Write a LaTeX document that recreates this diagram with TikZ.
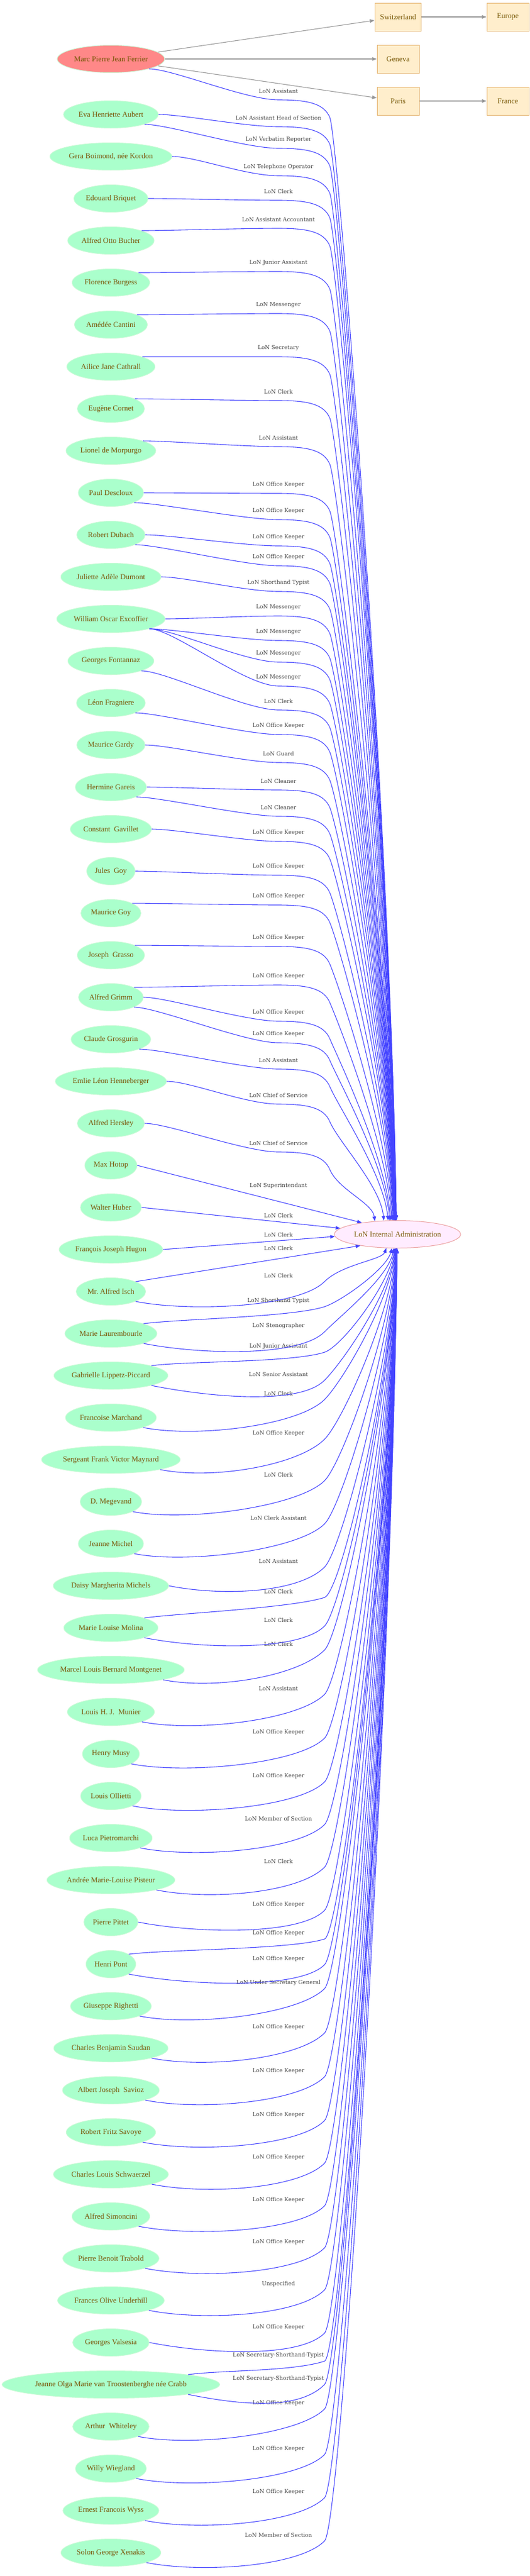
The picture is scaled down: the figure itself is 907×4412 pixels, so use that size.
\documentclass[tikz,border=0pt]{standalone}
\usepackage{fontspec}
\setmainfont{Liberation Serif}
\newfontfamily\rolefont{DejaVu Serif}
\usetikzlibrary{arrows.meta,shapes.geometric}
\definecolor{mint}{RGB}{170,255,204}
\definecolor{mintrim}{RGB}{205,250,215}
\definecolor{salmon}{RGB}{255,136,136}
\definecolor{lavender}{RGB}{255,236,255}
\definecolor{rosy}{RGB}{235,160,160}
\definecolor{cream}{RGB}{255,238,204}
\definecolor{tanline}{RGB}{228,178,110}
\definecolor{ochre}{RGB}{122,88,8}
\definecolor{slate}{RGB}{68,68,68}
\definecolor{lonblue}{RGB}{68,68,255}
\definecolor{geogray}{RGB}{153,153,153}
\frenchspacing

\begin{document}
\begin{tikzpicture}[
		x=1bp, y=-1bp,
		person/.style={ellipse, fill=mint, draw=mintrim, line width=1bp, minimum height=47bp,
			inner xsep=2bp, text=ochre, font=\fontsize{13}{15}\selectfont},
		seed/.style={person, fill=salmon},
		hub/.style={person, fill=lavender, draw=rosy},
		place/.style={rectangle, fill=cream, draw=tanline, line width=1bp, minimum width=72bp,
			minimum height=48bp, inner xsep=9bp, text=ochre, font=\fontsize{13}{15}\selectfont},
		role/.style={text=slate, inner sep=0pt, font=\rolefont\fontsize{9.5}{11}\selectfont},
		geo/.style={draw=geogray, line width=1.1bp, -{Triangle[length=8bp,width=6bp]}},
		link/.style={draw=lonblue, line width=1.1bp, -{Triangle[length=8bp,width=6bp]}},
		up/.style={to path={.. controls +(40,0) and (420,#1+15) .. (477,#1+15)
			.. controls (530,#1+15) and (555,#1+22) .. (565,#1+45)
			.. controls (580,#1+80) and ({672-4000/(2077-#1)},{2091-0.35*(2046-#1)}) .. (\tikztotarget)}},
		low/.style={to path={.. controls +(90,18) and (511,#1+55) .. (556,#1+10)
			.. controls (586,#1-20) and ({672-1000/(#1-2128)},{2138+0.35*(#1-2128)}) .. (\tikztotarget)}},
		rise/.style={to path={.. controls +(60,-8) and (500,#1+28) .. (556,#1+10)
			.. controls (586,#1) and ({672-1000/(#1-2128)},{2138+0.35*(#1-2128)}) .. (\tikztotarget)}}
	]
  \useasboundingbox (0,0) rectangle (907,4412);
  \node[seed] (marc) at (190,101) {Marc Pierre Jean Ferrier};
  \node[person] (eva) at (190,196) {Eva Henriette Aubert};
  \node[person] (gera) at (190,268) {Gera Boimond, née Kordon};
  \node[person] (briquet) at (190,340) {Edouard Briquet};
  \node[person] (bucher) at (190,412) {Alfred Otto Bucher};
  \node[person] (burgess) at (190,484) {Florence Burgess};
  \node[person] (cantini) at (190,556) {Amédée Cantini};
  \node[person] (cathrall) at (190,628) {Ailice Jane Cathrall};
  \node[person] (cornet) at (190,700) {Eugène Cornet};
  \node[person] (morpurgo) at (190,772) {Lionel de Morpurgo};
  \node[person] (descloux) at (190,844) {Paul Descloux};
  \node[person] (dubach) at (190,916) {Robert Dubach};
  \node[person] (dumont) at (190,988) {Juliette Adèle Dumont};
  \node[person] (excoffier) at (190,1060) {William Oscar Excoffier};
  \node[person] (fontannaz) at (190,1132) {Georges Fontannaz};
  \node[person] (fragniere) at (190,1204) {Léon Fragniere};
  \node[person] (gardy) at (190,1276) {Maurice Gardy};
  \node[person] (gareis) at (190,1348) {Hermine Gareis};
  \node[person] (gavillet) at (190,1420) {Constant\ \ Gavillet};
  \node[person] (goyj) at (190,1492) {Jules\ \ Goy};
  \node[person] (goym) at (190,1564) {Maurice Goy};
  \node[person] (grasso) at (190,1636) {Joseph\ \ Grasso};
  \node[person] (grimm) at (190,1708) {Alfred Grimm};
  \node[person] (grosgurin) at (190,1780) {Claude Grosgurin};
  \node[person] (henneberger) at (190,1852) {Emlie Léon Henneberger};
  \node[person] (hersley) at (190,1924) {Alfred Hersley};
  \node[person] (hotop) at (190,1996) {Max Hotop};
  \node[person] (huber) at (190,2068) {Walter Huber};
  \node[person] (hugon) at (190,2140) {François Joseph Hugon};
  \node[person] (isch) at (190,2212) {Mr. Alfred Isch};
  \node[person] (laurembourle) at (190,2284) {Marie Laurembourle};
  \node[person] (lippetz) at (190,2356) {Gabrielle Lippetz-Piccard};
  \node[person] (marchand) at (190,2428) {Francoise Marchand};
  \node[person] (maynard) at (190,2500) {Sergeant Frank Victor Maynard};
  \node[person] (megevand) at (190,2572) {D. Megevand};
  \node[person] (michel) at (190,2644) {Jeanne Michel};
  \node[person] (michels) at (190,2716) {Daisy Margherita Michels};
  \node[person] (molina) at (190,2788) {Marie Louise Molina};
  \node[person] (montgenet) at (190,2860) {Marcel Louis Bernard Montgenet};
  \node[person] (munier) at (190,2932) {Louis H. J.\ \ Munier};
  \node[person] (musy) at (190,3004) {Henry Musy};
  \node[person] (ollietti) at (190,3076) {Louis Ollietti};
  \node[person] (pietromarchi) at (190,3148) {Luca Pietromarchi};
  \node[person] (pisteur) at (190,3220) {Andrée Marie-Louise Pisteur};
  \node[person] (pittet) at (190,3292) {Pierre Pittet};
  \node[person] (pont) at (190,3364) {Henri Pont};
  \node[person] (righetti) at (190,3436) {Giuseppe Righetti};
  \node[person] (saudan) at (190,3508) {Charles Benjamin Saudan};
  \node[person] (savioz) at (190,3580) {Albert Joseph\ \ Savioz};
  \node[person] (savoye) at (190,3652) {Robert Fritz Savoye};
  \node[person] (schwaerzel) at (190,3724) {Charles Louis Schwaerzel};
  \node[person] (simoncini) at (190,3796) {Alfred Simoncini};
  \node[person] (trabold) at (190,3868) {Pierre Benoit Trabold};
  \node[person] (underhill) at (190,3940) {Frances Olive Underhill};
  \node[person] (valsesia) at (190,4012) {Georges Valsesia};
  \node[person] (troostenberghe) at (190,4084) {Jeanne Olga Marie van Troostenberghe née Crabb};
  \node[person] (whiteley) at (190,4156) {Arthur\ \ Whiteley};
  \node[person] (wiegland) at (190,4228) {Willy Wiegland};
  \node[person] (wyss) at (190,4300) {Ernest Francois Wyss};
  \node[person] (xenakis) at (190,4372) {Solon George Xenakis};
  \node[place] (switzerland) at (682,29) {Switzerland};
  \node[place] (europe) at (870,29) {Europe};
  \node[place] (geneva) at (682,101) {Geneva};
  \node[place] (paris) at (682,173) {Paris};
  \node[place] (france) at (870,173) {France};
  \node[hub] (lon) at (681,2114) {LoN Internal Administration};
  \node[role] (j1) at (477,156) {LoN Assistant};
  \node[role] (j2) at (477,202) {LoN Assistant Head of Section};
  \node[role] (j3) at (477,239) {LoN Verbatim Reporter};
  \node[role] (j4) at (477,286) {LoN Telephone Operator};
  \node[role] (j5) at (477,328) {LoN Clerk};
  \node[role] (j6) at (477,376) {LoN Assistant Accountant};
  \node[role] (j7) at (477,450) {LoN Junior Assistant};
  \node[role] (j8) at (477,522) {LoN Messenger};
  \node[role] (j9) at (477,596) {LoN Secretary};
  \node[role] (j10) at (477,671) {LoN Clerk};
  \node[role] (j11) at (477,750) {LoN Assistant};
  \node[role] (j12) at (477,830) {LoN Office Keeper};
  \node[role] (j13) at (477,875) {LoN Office Keeper};
  \node[role] (j14) at (477,920) {LoN Office Keeper};
  \node[role] (j15) at (477,954) {LoN Office Keeper};
  \node[role] (j16) at (477,998) {LoN Shorthand Typist};
  \node[role] (j17) at (477,1040) {LoN Messenger};
  \node[role] (j18) at (477,1082) {LoN Messenger};
  \node[role] (j19) at (477,1119) {LoN Messenger};
  \node[role] (j20) at (477,1160) {LoN Messenger};
  \node[role] (j21) at (477,1201) {LoN Clerk};
  \node[role] (j22) at (477,1243) {LoN Office Keeper};
  \node[role] (j23) at (477,1291) {LoN Guard};
  \node[role] (j24) at (477,1338) {LoN Cleaner};
  \node[role] (j25) at (477,1383) {LoN Cleaner};
  \node[role] (j26) at (477,1426) {LoN Office Keeper};
  \node[role] (j27) at (477,1484) {LoN Office Keeper};
  \node[role] (j28) at (477,1535) {LoN Office Keeper};
  \node[role] (j29) at (477,1606) {LoN Office Keeper};
  \node[role] (j30) at (477,1672) {LoN Office Keeper};
  \node[role] (j31) at (477,1734) {LoN Office Keeper};
  \node[role] (j32) at (477,1771) {LoN Office Keeper};
  \node[role] (j33) at (477,1816) {LoN Assistant};
  \node[role] (j34) at (477,1876) {LoN Chief of Service};
  \node[role] (j35) at (477,1958) {LoN Chief of Service};
  \node[role] (j36) at (477,2031) {LoN Superintendant};
  \node[role] (j37) at (477,2082) {LoN Clerk};
  \node[role] (j38) at (477,2115) {LoN Clerk};
  \node[role] (j39) at (477,2138) {LoN Clerk};
  \node[role] (j40) at (477,2185) {LoN Clerk};
  \node[role] (j41) at (477,2228) {LoN Shorthand Typist};
  \node[role] (j42) at (477,2271) {LoN Stenographer};
  \node[role] (j43) at (477,2306) {LoN Junior Assistant};
  \node[role] (j44) at (477,2354) {LoN Senior Assistant};
  \node[role] (j45) at (477,2387) {LoN Clerk};
  \node[role] (j46) at (477,2455) {LoN Office Keeper};
  \node[role] (j47) at (477,2526) {LoN Clerk};
  \node[role] (j48) at (477,2600) {LoN Clerk Assistant};
  \node[role] (j49) at (477,2674) {LoN Assistant};
  \node[role] (j50) at (477,2726) {LoN Clerk};
  \node[role] (j51) at (477,2775) {LoN Clerk};
  \node[role] (j52) at (477,2816) {LoN Clerk};
  \node[role] (j53) at (477,2892) {LoN Assistant};
  \node[role] (j54) at (477,2967) {LoN Office Keeper};
  \node[role] (j55) at (477,3042) {LoN Office Keeper};
  \node[role] (j56) at (477,3115) {LoN Member of Section};
  \node[role] (j57) at (477,3188) {LoN Clerk};
  \node[role] (j58) at (477,3262) {LoN Office Keeper};
  \node[role] (j59) at (477,3311) {LoN Office Keeper};
  \node[role] (j60) at (477,3355) {LoN Office Keeper};
  \node[role] (j61) at (477,3396) {LoN Under Secretary General};
  \node[role] (j62) at (477,3472) {LoN Office Keeper};
  \node[role] (j63) at (477,3547) {LoN Office Keeper};
  \node[role] (j64) at (477,3622) {LoN Office Keeper};
  \node[role] (j65) at (477,3695) {LoN Office Keeper};
  \node[role] (j66) at (477,3768) {LoN Office Keeper};
  \node[role] (j67) at (477,3840) {LoN Office Keeper};
  \node[role] (j68) at (477,3912) {Unspecified};
  \node[role] (j69) at (477,3986) {LoN Office Keeper};
  \node[role] (j70) at (477,4034) {LoN Secretary-Shorthand-Typist};
  \node[role] (j71) at (477,4074) {LoN Secretary-Shorthand-Typist};
  \node[role] (j72) at (477,4116) {LoN Office Keeper};
  \node[role] (j73) at (477,4194) {LoN Office Keeper};
  \node[role] (j74) at (477,4268) {LoN Office Keeper};
  \node[role] (j75) at (477,4342) {LoN Member of Section};
  \draw[geo] (marc) -- (switzerland);
  \draw[geo] (marc) -- (geneva);
  \draw[geo] (marc) -- (paris);
  \draw[geo] (switzerland) -- (europe);
  \draw[geo] (paris) -- (france);
  \draw[link] (marc.south east) to[up=156] (lon.95);
  \draw[link] (eva.east) to[up=202] (lon.95);
  \draw[link] (eva.south east) to[up=239] (lon.95);
  \draw[link] (gera.east) to[up=286] (lon.95);
  \draw[link] (briquet.east) to[up=328] (lon.95);
  \draw[link] (bucher.north east) to[up=376] (lon.95);
  \draw[link] (burgess.north east) to[up=450] (lon.96);
  \draw[link] (cantini.north east) to[up=522] (lon.96);
  \draw[link] (cathrall.north east) to[up=596] (lon.96);
  \draw[link] (cornet.north east) to[up=671] (lon.96);
  \draw[link] (morpurgo.north east) to[up=750] (lon.97);
  \draw[link] (descloux.east) to[up=830] (lon.97);
  \draw[link] (descloux.south east) to[up=875] (lon.97);
  \draw[link] (dubach.east) to[up=920] (lon.98);
  \draw[link] (dubach.south east) to[up=954] (lon.98);
  \draw[link] (dumont.east) to[up=998] (lon.98);
  \draw[link] (excoffier.east) to[up=1040] (lon.99);
  \draw[link] (excoffier.south east) to[up=1082] (lon.99);
  \draw[link] (excoffier.south east) to[up=1119] (lon.99);
  \draw[link] (excoffier.south east) to[up=1160] (lon.100);
  \draw[link] (fontannaz.south east) to[up=1201] (lon.100);
  \draw[link] (fragniere.south east) to[up=1243] (lon.101);
  \draw[link] (gardy.east) to[up=1291] (lon.101);
  \draw[link] (gareis.east) to[up=1338] (lon.102);
  \draw[link] (gareis.south east) to[up=1383] (lon.103);
  \draw[link] (gavillet.east) to[up=1426] (lon.104);
  \draw[link] (goyj.east) to[up=1484] (lon.105);
  \draw[link] (goym.north east) to[up=1535] (lon.107);
  \draw[link] (grasso.north east) to[up=1606] (lon.109);
  \draw[link] (grimm.north east) to[up=1672] (lon.112);
  \draw[link] (grimm.east) to[up=1734] (lon.116);
  \draw[link] (grimm.south east) to[up=1771] (lon.119);
  \draw[link] (grosgurin.south east) to[up=1816] (lon.124);
  \draw[link] (henneberger.east) to[up=1876] (lon.135);
  \draw[link] (hersley.east) to[up=1958] (lon.150);
  \draw[link] (hotop.east) -- (lon.162);
  \draw[link] (huber.east) -- (lon.174);
  \draw[link] (hugon.east) -- (lon.182);
  \draw[link] (isch.north east) -- (lon.197);
  \draw[link] (isch.south east) to[low=2185] (lon.231);
  \draw[link] (laurembourle.north east) to[rise=2228] (lon.248);
  \draw[link] (laurembourle.south east) to[low=2271] (lon.255);
  \draw[link] (lippetz.north east) to[rise=2306] (lon.258);
  \draw[link] (lippetz.south east) to[low=2354] (lon.260);
  \draw[link] (marchand.south east) to[low=2387] (lon.262);
  \draw[link] (maynard.south east) to[low=2455] (lon.263);
  \draw[link] (megevand.south east) to[low=2526] (lon.264);
  \draw[link] (michel.south east) to[low=2600] (lon.265);
  \draw[link] (michels.east) to[low=2674] (lon.266);
  \draw[link] (molina.north east) to[rise=2726] (lon.266);
  \draw[link] (molina.south east) to[low=2775] (lon.267);
  \draw[link] (montgenet.south east) to[low=2816] (lon.267);
  \draw[link] (munier.south east) to[low=2892] (lon.267);
  \draw[link] (musy.south east) to[low=2967] (lon.267);
  \draw[link] (ollietti.south east) to[low=3042] (lon.268);
  \draw[link] (pietromarchi.south east) to[low=3115] (lon.268);
  \draw[link] (pisteur.south east) to[low=3188] (lon.268);
  \draw[link] (pittet.east) to[low=3262] (lon.268);
  \draw[link] (pont.north east) to[rise=3311] (lon.268);
  \draw[link] (pont.south east) to[low=3355] (lon.268);
  \draw[link] (righetti.south east) to[low=3396] (lon.268);
  \draw[link] (saudan.south east) to[low=3472] (lon.268);
  \draw[link] (savioz.south east) to[low=3547] (lon.268);
  \draw[link] (savoye.south east) to[low=3622] (lon.268);
  \draw[link] (schwaerzel.south east) to[low=3695] (lon.268);
  \draw[link] (simoncini.south east) to[low=3768] (lon.268);
  \draw[link] (trabold.south east) to[low=3840] (lon.268);
  \draw[link] (underhill.south east) to[low=3912] (lon.268);
  \draw[link] (valsesia.east) to[low=3986] (lon.268);
  \draw[link] (troostenberghe.north east) to[rise=4034] (lon.268);
  \draw[link] (troostenberghe.south east) to[low=4074] (lon.268);
  \draw[link] (whiteley.south east) to[low=4116] (lon.268);
  \draw[link] (wiegland.south east) to[low=4194] (lon.268);
  \draw[link] (wyss.south east) to[low=4268] (lon.268);
  \draw[link] (xenakis.south east) to[low=4342] (lon.268);
\end{tikzpicture}
\end{document}
